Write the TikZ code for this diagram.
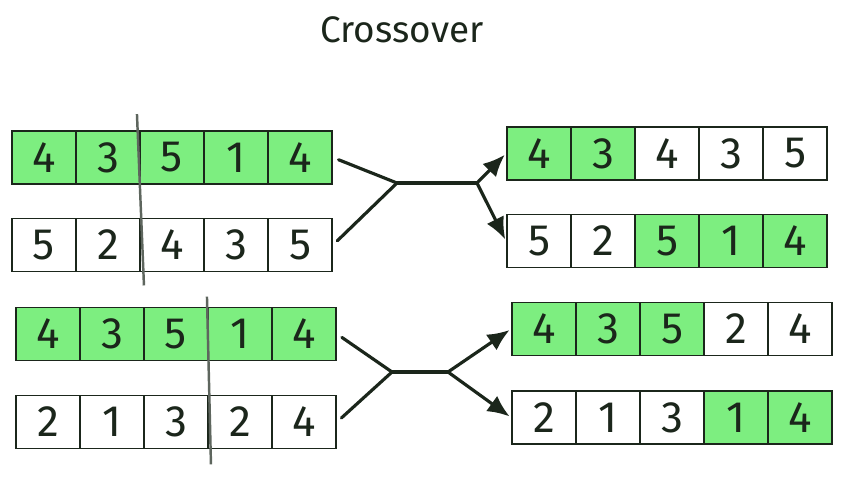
\documentclass[tikz,border=0pt]{standalone}
\usepackage{fontspec}
\setmainfont{Fira Sans}
\usetikzlibrary{arrows.meta}
\definecolor{Ink}{HTML}{1B261B}
\definecolor{Gene}{HTML}{7DEE80}
\definecolor{Cut}{HTML}{5E665E}

\begin{document}
\begin{tikzpicture}[
  x=0.02cm, y=-0.02cm,
  gene/.style={draw=Ink, line width=1.1pt, minimum width=1.28cm, minimum height=1.06cm, inner sep=0pt, font=\fontsize{25}{25}\selectfont, text=Ink, fill=white},
  hit/.style={fill=Gene},
  miss/.style={fill=white},
  link/.style={draw=Ink, line width=1.8pt, line cap=round, shorten <=0.12cm},
  arrow/.style={link, -{Latex[length=4.4mm, width=3.8mm]}, shorten >=1pt},
  cut/.style={draw=Cut, line width=1.4pt}
]
\useasboundingbox (0,0) rectangle (855,477);
\node[font=\fontsize{21}{21}\selectfont, text=Ink] (title) at (402,30) {Crossover};

% parents, first pair
\foreach \d/\s [count=\i] in {4/hit,3/hit,5/hit,1/hit,4/hit}
  \node[gene,\s] (pa\i) at ({44+(\i-1)*64},157.5) {\d};
\foreach \d/\s [count=\i] in {5/miss,2/miss,4/miss,3/miss,5/miss}
  \node[gene,\s] (pb\i) at ({44+(\i-1)*64},245) {\d};

% parents, second pair
\foreach \d/\s [count=\i] in {4/hit,3/hit,5/hit,1/hit,4/hit}
  \node[gene,\s] (pc\i) at ({48+(\i-1)*64},334) {\d};
\foreach \d/\s [count=\i] in {2/miss,1/miss,3/miss,2/miss,4/miss}
  \node[gene,\s] (pd\i) at ({48+(\i-1)*64},422) {\d};

% children
\foreach \d/\s [count=\i] in {4/hit,3/hit,4/miss,3/miss,5/miss}
  \node[gene,\s] (ca\i) at ({539+(\i-1)*64},153.5) {\d};
\foreach \d/\s [count=\i] in {5/miss,2/miss,5/hit,1/hit,4/hit}
  \node[gene,\s] (cb\i) at ({539+(\i-1)*64},241) {\d};
\foreach \d/\s [count=\i] in {4/hit,3/hit,5/hit,2/miss,4/miss}
  \node[gene,\s] (cc\i) at ({544+(\i-1)*64},329) {\d};
\foreach \d/\s [count=\i] in {2/miss,1/miss,3/miss,1/hit,4/hit}
  \node[gene,\s] (cd\i) at ({544+(\i-1)*64},417.5) {\d};

% cut points
\draw[cut] ([shift={(-4,-16)}]pa2.north east) -- ([shift={(3,13)}]pb2.south east);
\draw[cut] ([shift={(-2,-10)}]pc3.north east) -- ([shift={(2,15)}]pd3.south east);

% crossover links
\coordinate (j1) at (397,183);
\coordinate (k1) at (477,183);
\coordinate (j2) at (392,372);
\coordinate (k2) at (448,372);
\draw[link] (pa5.east) -- (j1);
\draw[link] (pb5.east) -- (j1);
\draw[link, shorten <=0pt] (j1) -- (k1);
\draw[arrow, shorten <=0pt] (k1) -- (ca1.west);
\draw[arrow, shorten <=0pt] (k1) -- (cb1.west);
\draw[link] (pc5.east) -- (j2);
\draw[link] (pd5.east) -- (j2);
\draw[link, shorten <=0pt] (j2) -- (k2);
\draw[arrow, shorten <=0pt] (k2) -- (cc1.west);
\draw[arrow, shorten <=0pt] (k2) -- (cd1.west);
\end{tikzpicture}
\end{document}
